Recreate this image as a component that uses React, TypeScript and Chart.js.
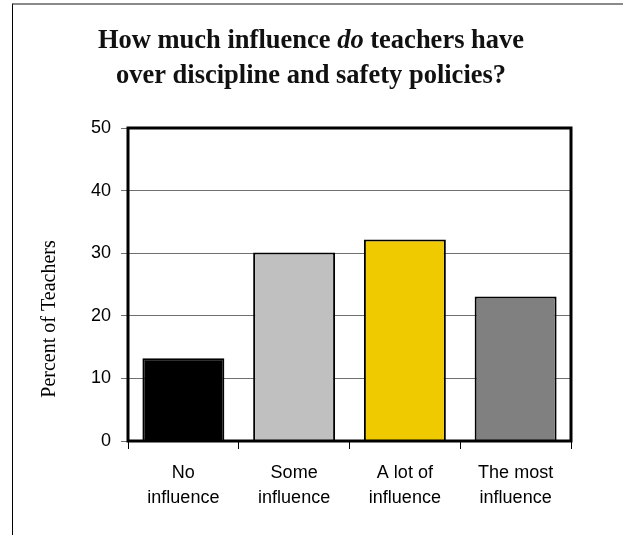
import React, { useEffect, useRef } from "react";
import { Chart, registerables } from "chart.js";

Chart.register(...registerables);

const categories: string[][] = [
  ["No", "influence"],
  ["Some", "influence"],
  ["A lot of", "influence"],
  ["The most", "influence"],
];
const percentTeachers: number[] = [13.2, 30.1, 32.2, 23.1];
const barColors: string[] = ["#000000", "#C0C0C0", "#F0CA00", "#808080"];
const yTicks: number[] = [0, 10, 20, 30, 40, 50];
const titleLine1: { text: string; italic: boolean }[] = [
  { text: "How much influence ", italic: false },
  { text: "do", italic: true },
  { text: " teachers have", italic: false },
];
const titleLine2 = "over discipline and safety policies?";
const yAxisTitle = "Percent of Teachers";

const decorPlugin = {
  id: "decor",
  afterDatasetsDraw(chart: any) {
    const { ctx, chartArea } = chart;
    ctx.save();
    ctx.strokeStyle = "#000";
    ctx.lineWidth = 3;
    ctx.strokeRect(
      chartArea.left,
      chartArea.top,
      chartArea.right - chartArea.left,
      chartArea.bottom - chartArea.top
    );
    ctx.restore();
  },
  afterDraw(chart: any) {
    const { ctx } = chart;
    ctx.save();
    ctx.fillStyle = "#111";
    ctx.textBaseline = "alphabetic";
    const size = 26.5;
    const fam = '"Liberation Serif", "Times New Roman", serif';
    const fonts = titleLine1.map((p) => `${p.italic ? "italic " : ""}bold ${size}px ${fam}`);
    let total = 0;
    const widths = titleLine1.map((p, i) => {
      ctx.font = fonts[i];
      const w = ctx.measureText(p.text).width;
      total += w;
      return w;
    });
    const cx = 311;
    let x = cx - total / 2;
    ctx.textAlign = "left";
    titleLine1.forEach((p, i) => {
      ctx.font = fonts[i];
      ctx.fillText(p.text, x, 48);
      x += widths[i];
    });
    ctx.font = `bold ${size}px ${fam}`;
    ctx.textAlign = "center";
    ctx.fillText(titleLine2, cx, 83);

    // y axis title
    ctx.font = `20px ${fam}`;
    ctx.fillStyle = "#000";
    ctx.translate(50, 319);
    ctx.rotate(-Math.PI / 2);
    ctx.textAlign = "center";
    ctx.textBaseline = "middle";
    ctx.fillText(yAxisTitle, 0, 0);
    ctx.restore();
  },
};

export default function App() {
  const ref = useRef<HTMLCanvasElement>(null);
  useEffect(() => {
    if (!ref.current) return;
    const chart = new Chart(ref.current, {
      type: "bar",
      data: {
        labels: categories,
        datasets: [
          {
            data: percentTeachers,
            backgroundColor: barColors,
            borderColor: "#000",
            borderWidth: 2,
            barPercentage: 0.74,
            categoryPercentage: 1,
          },
        ],
      },
      options: {
        animation: false,
        responsive: false,
        maintainAspectRatio: false,
        layout: { padding: { left: 68, right: 52, top: 128, bottom: 0 } },
        plugins: {
          legend: { display: false },
          tooltip: { enabled: false },
          title: { display: false },
        },
        scales: {
          x: {
            afterFit(scale: any) {
              scale.height = 94;
            },
            grid: {
              display: true,
              drawOnChartArea: false,
              drawTicks: true,
              tickLength: 8,
              color: "#000",
              lineWidth: 1,
            },
            border: { display: false },
            ticks: {
              color: "#000",
              padding: 12,
              maxRotation: 0,
              autoSkip: false,
              font: { family: '"Liberation Sans", Arial, sans-serif', size: 18, lineHeight: 1.39 },
            },
          },
          y: {
            min: 0,
            max: 50,
            afterFit(scale: any) {
              scale.width = 60;
            },
            afterBuildTicks(scale: any) {
              scale.ticks = yTicks.map((v) => ({ value: v }));
            },
            grid: {
              color: "#707070",
              lineWidth: 1,
              drawTicks: true,
              tickLength: 7,
            },
            border: { display: false },
            ticks: {
              color: "#000",
              padding: 10,
              font: { family: '"Liberation Sans", Arial, sans-serif', size: 18 },
            },
          },
        },
      },
      plugins: [decorPlugin],
    });
    return () => chart.destroy();
  }, []);

  return (
    <div style={{ position: "absolute", left: 0, top: 0, width: 623, height: 535, background: "#fff" }}>
      <div
        style={{
          position: "absolute",
          left: 12,
          top: 3,
          width: 611,
          height: 532,
          borderTop: "2px solid #8a8a8a",
          borderLeft: "1px solid #000",
          boxSizing: "border-box",
        }}
      />
      <canvas ref={ref} width={623} height={535} style={{ position: "absolute", left: 0, top: 0 }} />
    </div>
  );
}
